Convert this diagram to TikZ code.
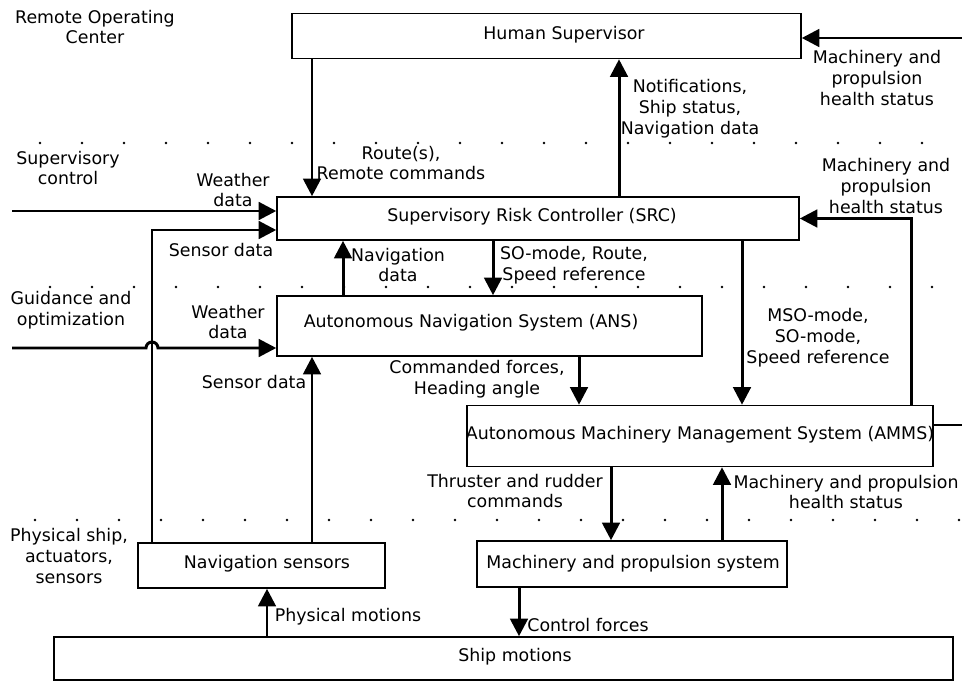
\documentclass[tikz,border=0pt]{standalone}
\usepackage{fontspec}
\setmainfont{DejaVu Sans}
\usetikzlibrary{arrows.meta, calc}

\begin{document}
\begin{tikzpicture}[
  x=0.02cm, y=-0.02cm,
  blk/.style={draw, line width=0.9pt, inner sep=0pt},
  txt/.style={font=\fontsize{9.9}{11.9}\selectfont, align=center, inner sep=0pt},
  flow/.style={line width=1.7pt, -{Triangle[length=10pt, width=10pt]}},
  wire/.style={line width=1.7pt},
]
\useasboundingbox (0,0) rectangle (962,682);

% Level separators
\foreach \i in {0,...,21} \fill ({40+42*\i},143) circle[radius=0.028cm];
\foreach \i in {0,...,21} \fill ({50+42*\i},287) circle[radius=0.028cm];
\foreach \i in {0,...,22} \fill ({35+42*\i},520) circle[radius=0.028cm];

% Level names
\node[txt] (lvROC) at (95,27) {Remote Operating\\Center};
\node[txt] (lvSup) at (68,168) {Supervisory\\control};
\node[txt] (lvGuid) at (71,310) {Guidance and\\optimization};
\node[txt] (lvPhys) at (69,556) {Physical ship,\\actuators,\\sensors};

% Blocks
\node[blk, minimum width=10.18cm, minimum height=0.9cm] (HS) at (546.5,36) {};
\node[txt] (HStxt) at (564,35) {Human Supervisor};

\node[blk, minimum width=10.44cm, minimum height=0.86cm] (SRC) at (538,218.5) {};
\node[txt] (SRCtxt) at (532,217) {Supervisory Risk Controller (SRC)};

\node[blk, minimum width=8.5cm, minimum height=1.2cm] (ANS) at (489.5,326) {};
\node[txt] (ANStxt) at (471,323) {Autonomous Navigation System (ANS)};

\node[blk, minimum width=9.32cm, minimum height=1.22cm] (AMMS) at (700,436) {};
\node[txt] (AMMStxt) at (700,435) {Autonomous Machinery Management System (AMMS)};

\node[blk, minimum width=4.94cm, minimum height=0.9cm] (NavSens) at (261.5,565.5) {};
\node[txt] (NavSenstxt) at (267,564) {Navigation sensors};

\node[blk, minimum width=6.2cm, minimum height=0.92cm] (MPS) at (632,564) {};
\node[txt] (MPStxt) at (633,564) {Machinery and propulsion system};

\node[blk, minimum width=17.98cm, minimum height=0.86cm] (Ship) at (503.5,658.5) {};
\node[txt] (Shiptxt) at (515,657) {Ship motions};

% Free ends
\coordinate (supIn) at (12,211);
\coordinate (guidIn) at (12,348);
\coordinate (hsIn) at (962,38);
\coordinate (ammsOut) at (962,425);

% Signals, top level
\draw[flow] (312,0 |- HS.south) -- (312,0 |- SRC.north);
\node[txt] (lbRoute) at (401,163) {Route(s),\\Remote commands};
\draw[flow] (619,0 |- SRC.north) -- (619,0 |- HS.south);
\node[txt] (lbNotif) at (690,109) {Notifications,\\Ship status,\\Navigation data};
\draw[flow] (hsIn) -- (hsIn -| HS.east);
\node[txt] (lbHealthA) at (877,78) {Machinery and\\propulsion\\health status};

% Signals into SRC
\draw[flow] (supIn) -- (supIn -| SRC.west);
\node[txt] (lbWeatherA) at (233,190) {Weather\\data};
\draw[flow] (152,0 |- NavSens.north) -- (152,230) -- (152,230 -| SRC.west);
\node[txt] (lbSensA) at (221,250) {Sensor data};
\draw[flow] (911,0 |- AMMS.north) |- (SRC.east);
\node[txt] (lbHealthB) at (886,186) {Machinery and\\propulsion\\health status};

% Between SRC and ANS
\draw[flow] (343,0 |- ANS.north) -- (343,0 |- SRC.south);
\node[txt] (lbNav) at (398,265) {Navigation\\data};
\draw[flow] (493,0 |- SRC.south) -- (493,0 |- ANS.north);
\node[txt] (lbSO) at (574,265) {SO-mode, Route,\\Speed reference};

% Signals into ANS
\draw[flow] (guidIn) -- (146,348) arc[start angle=180, end angle=0, radius=0.12cm]
  -- (guidIn -| ANS.west);
\node[txt] (lbWeatherB) at (228,322) {Weather\\data};
\draw[flow] (312,0 |- NavSens.north) -- (312,0 |- ANS.south);
\node[txt] (lbSensB) at (254,382) {Sensor data};

% Into AMMS
\draw[flow] (579,0 |- ANS.south) -- (579,0 |- AMMS.north);
\node[txt] (lbCmd) at (477,379) {Commanded forces,\\Heading angle};
\draw[flow] (742,0 |- SRC.south) -- (742,0 |- AMMS.north);
\node[txt] (lbMSO) at (818,338) {MSO-mode,\\SO-mode,\\Speed reference};
\draw[wire] (AMMS.east |- ammsOut) -- (ammsOut);

% Machinery level
\draw[flow] (611,0 |- AMMS.south) -- (611,0 |- MPS.north);
\node[txt] (lbThr) at (515,491) {Thruster and rudder\\commands};
\draw[flow] (722,0 |- MPS.north) -- (722,0 |- AMMS.south);
\node[txt] (lbHealthC) at (846,492) {Machinery and propulsion\\health status};

% Physical level
\draw[flow] (267,0 |- Ship.north) -- (267,0 |- NavSens.south);
\node[txt] (lbMot) at (348,617) {Physical motions};
\draw[flow] (519,0 |- MPS.south) -- (519,0 |- Ship.north);
\node[txt] (lbCtl) at (588,625) {Control forces};

\end{tikzpicture}
\end{document}
